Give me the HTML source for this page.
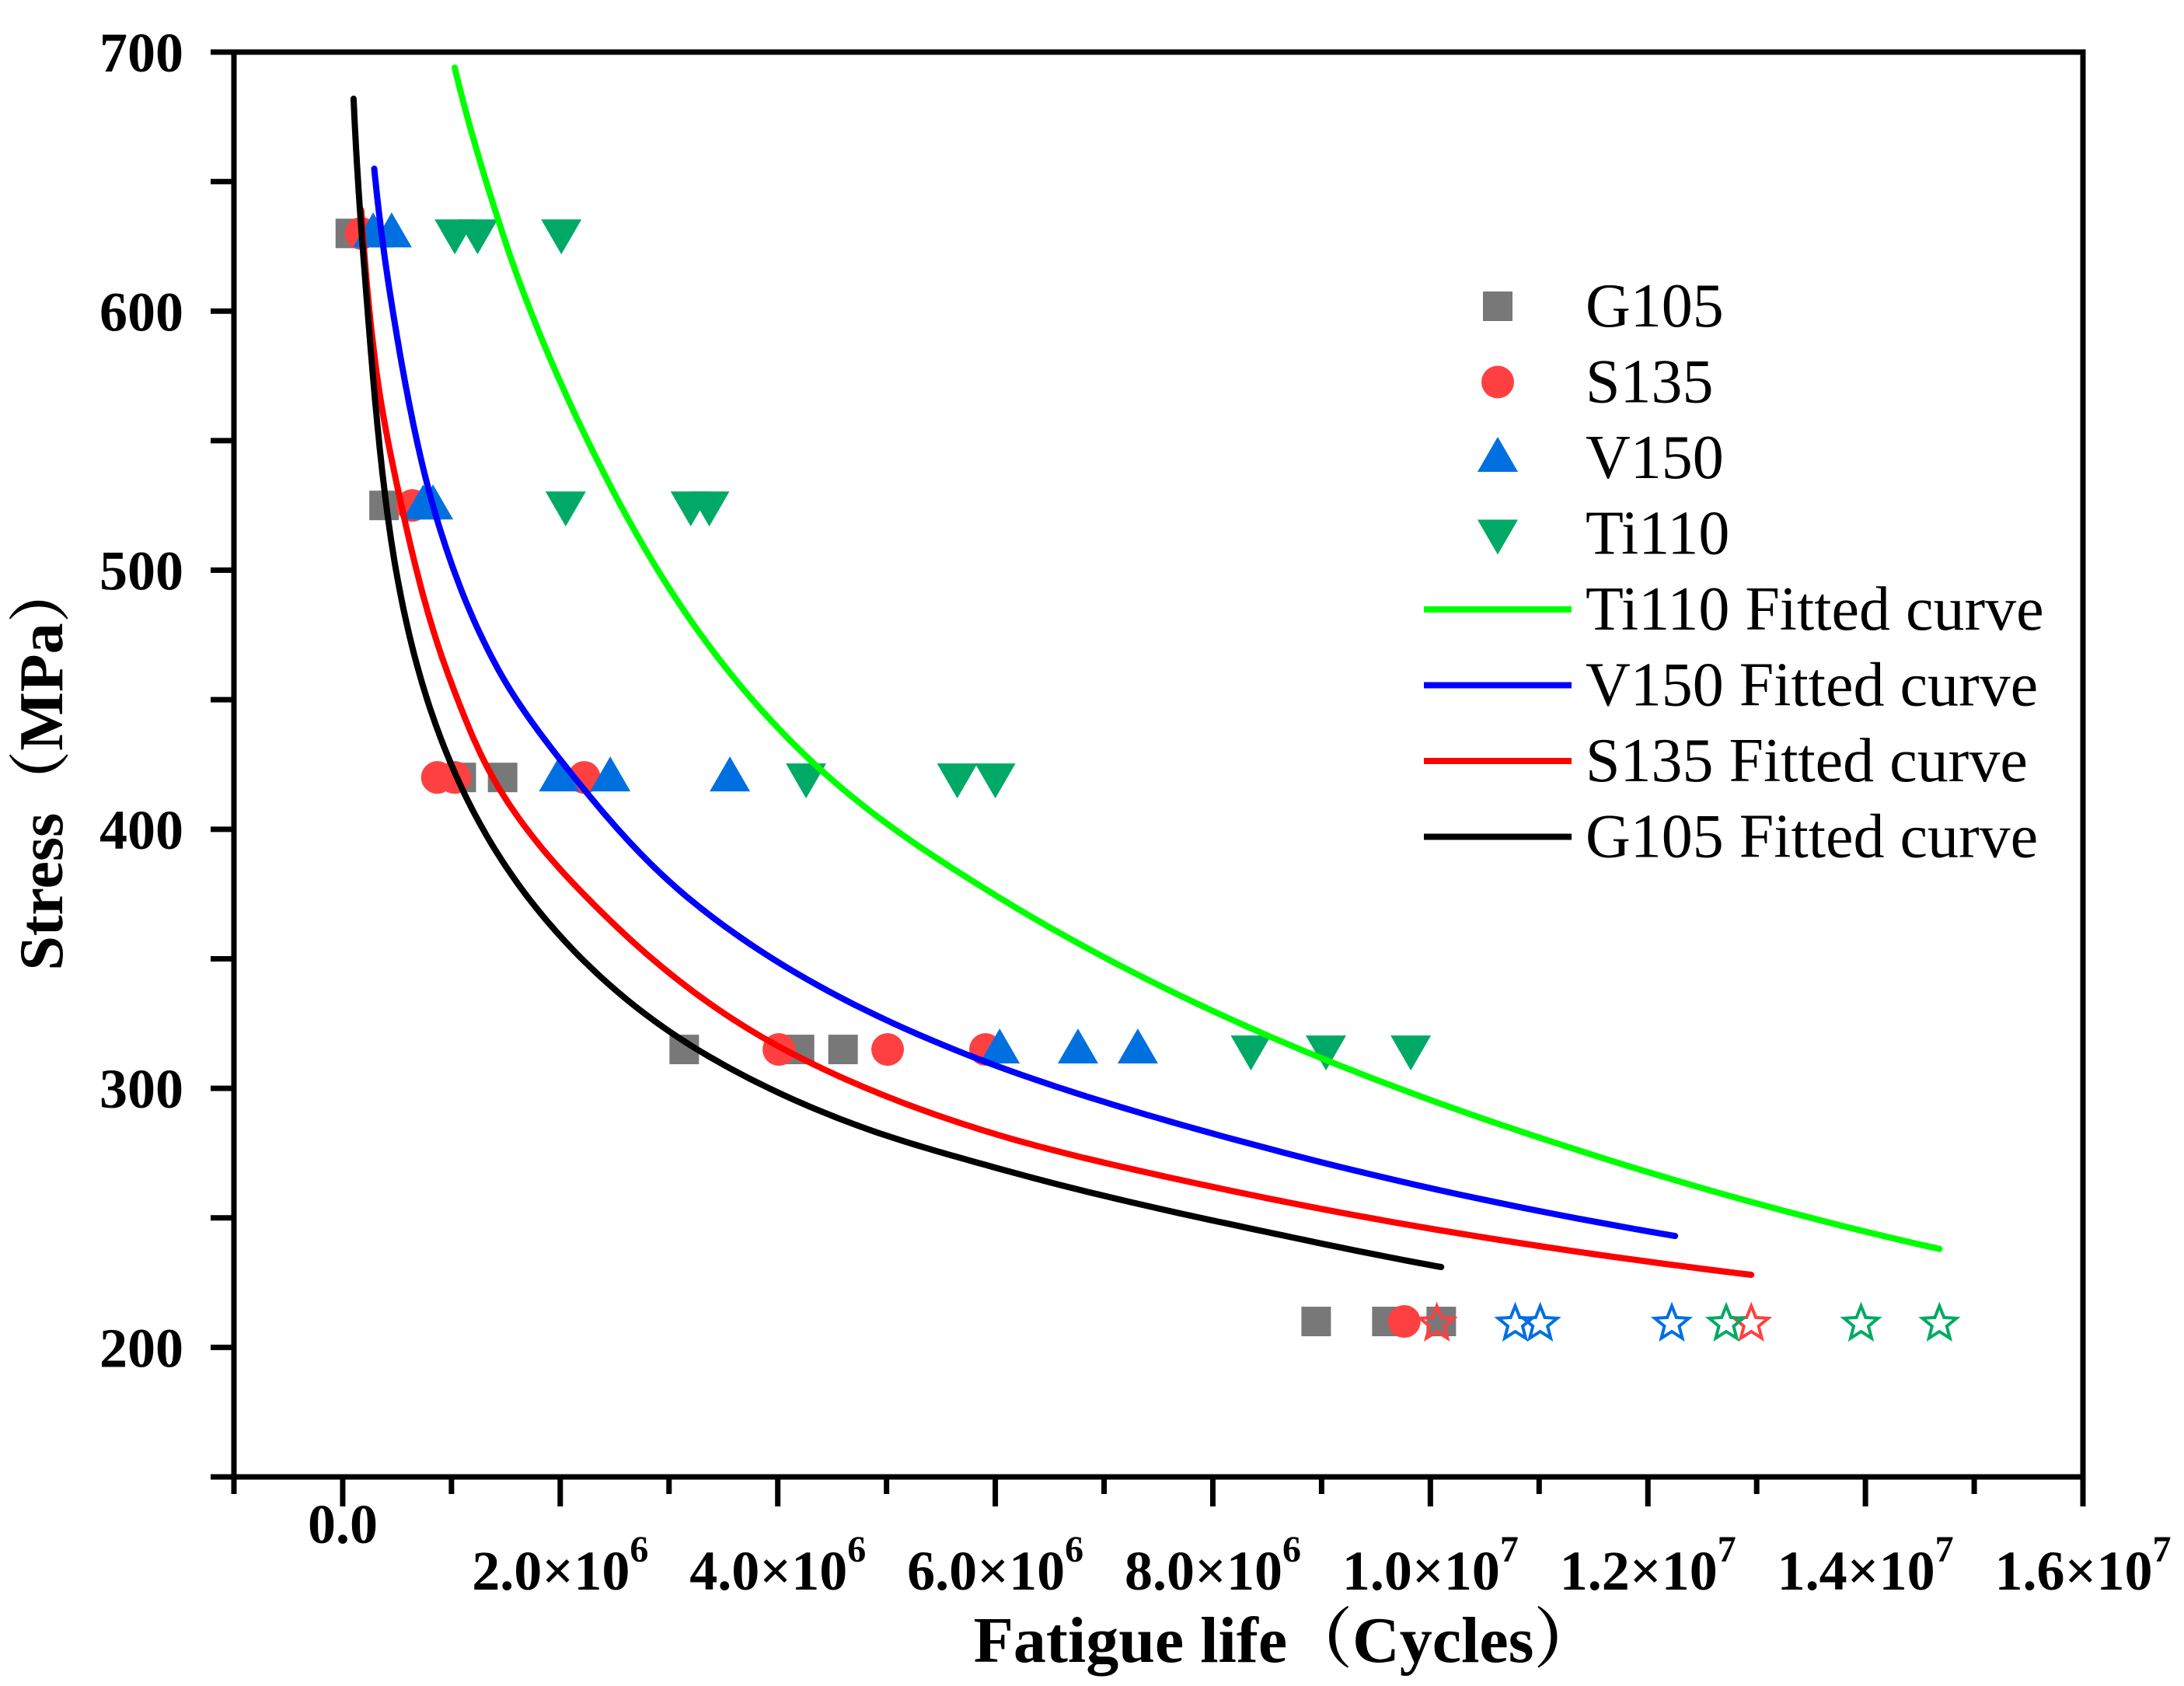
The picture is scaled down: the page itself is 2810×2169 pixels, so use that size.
<!DOCTYPE html>
<html><head><meta charset="utf-8"><style>
html,body{margin:0;padding:0;background:#fff}
svg{display:block}
text{font-family:"Liberation Serif","Noto Serif CJK SC",serif}
</style></head><body>
<svg id="chart" width="2810" height="2169" viewBox="0 0 2810 2169" xmlns="http://www.w3.org/2000/svg">
<g id="plot"></g>
</svg>
<script>
// ---- data ----
const yTicks = [200, 300, 400, 500, 600, 700];
const xTicks = [0, 2e6, 4e6, 6e6, 8e6, 1e7, 1.2e7, 1.4e7, 1.6e7];
const xTickLabels = ["0.0", "2.0×10|6", "4.0×10|6", "6.0×10|6", "8.0×10|6", "1.0×10|7", "1.2×10|7", "1.4×10|7", "1.6×10|7"];

const g105N = [0.07e6, 0.38e6, 1.09e6, 1.47e6, 3.14e6, 4.2e6, 4.6e6, 8.95e6, 9.6e6, 10.1e6];
const g105S = [630, 525, 420, 420, 315, 315, 315, 210, 210, 210];
const s135N = [0.17e6, 0.64e6, 0.87e6, 1.03e6, 2.22e6, 4.01e6, 5.01e6, 5.91e6, 9.76e6];
const s135S = [630, 525, 420, 420, 420, 315, 315, 315, 210];
const v150N = [0.28e6, 0.45e6, 0.74e6, 0.83e6, 1.99e6, 2.46e6, 3.56e6, 6.04e6, 6.76e6, 7.31e6];
const v150S = [630, 630, 525, 525, 420, 420, 420, 315, 315, 315];
const ti110N = [1.03e6, 1.24e6, 2.01e6, 2.05e6, 3.2e6, 3.37e6, 4.26e6, 5.65e6, 6.0e6, 8.35e6, 9.04e6, 9.82e6];
const ti110S = [630, 630, 630, 525, 525, 525, 420, 420, 420, 315, 315, 315];

const runoutS135N = [10.06e6, 12.95e6];
const runoutV150N = [10.78e6, 11.01e6, 12.22e6];
const runoutTi110N = [12.72e6, 13.96e6, 14.68e6];
const runoutS = 210;

const fitTiN = [1.03e6, 1.47e6, 2.37e6, 4.42e6, 6.1e6, 8.2e6, 11e6, 14.68e6];
const fitTiS = [694, 630, 540, 422, 372, 326, 281, 238];
const fitVN = [0.29e6, 0.5e6, 0.83e6, 1.4e6, 2.13e6, 3.22e6, 5.62e6, 8.22e6, 12.25e6];
const fitVS = [655, 590, 525, 464, 420, 372, 315, 280, 243];
const fitSN = [0.17e6, 0.3e6, 0.54e6, 0.95e6, 1.38e6, 2.38e6, 4.06e6, 5.87e6, 8.22e6, 12.95e6];
const fitSS = [639, 580, 525, 462, 420, 368, 315, 284, 260, 228];
const fitGN = [0.1e6, 0.22e6, 0.49e6, 1.05e6, 1.87e6, 3.26e6, 4.71e6, 6.12e6, 8.22e6, 10.1e6];
const fitGS = [682, 605, 500, 420, 365, 315, 286, 268, 247, 231];

// ---- axes ----
const L = 301, R = 2680, T = 67, B = 1900;
const xMin = -1e6, xMax = 1.6e7, yMin = 150, yMax = 700;
const X = n => L + (n - xMin) / (xMax - xMin) * (R - L);
const Y = s => B - (s - yMin) / (yMax - yMin) * (B - T);
const NS = "http://www.w3.org/2000/svg";
const plot = document.getElementById('plot');
function mk(tag, attrs, parent) {
  const e = document.createElementNS(NS, tag);
  for (const k in attrs) e.setAttribute(k, attrs[k]);
  (parent || plot).appendChild(e);
  return e;
}

const frame = mk('rect', {x: L, y: T, width: R - L, height: B - T, fill: 'none', stroke: '#000', 'stroke-width': 7});



for (let v = 150; v <= 700; v += 50) {
  const t = mk('line', {x1: L, x2: L - 30, y1: Y(v), y2: Y(v), stroke: '#000', 'stroke-width': 7});
  
  
}
yTicks.forEach(v => {
  const t = mk('text', {x: 236, y: Y(v) + 25, 'text-anchor': 'end', 'font-size': 72, 'font-weight': 'bold'});
  t.textContent = String(v);
  
  
});
for (let v = -1e6; v <= 1.6e7; v += 1e6) {
  const major = Math.round(v / 1e6) % 2 === 0;
  const t = mk('line', {x1: X(v), x2: X(v), y1: B, y2: B + (major ? 38 : 22), stroke: '#000', 'stroke-width': 7});
  
  
}
xTicks.forEach((v, i) => {
  const parts = xTickLabels[i].split('|');
  const t = mk('text', {x: X(v), y: parts.length > 1 ? 2045 : 1985, 'text-anchor': 'middle', 'font-size': 72, 'font-weight': 'bold'});
  
  
  t.appendChild(document.createTextNode(parts[0]));
  if (parts.length > 1) {
    const sup = document.createElementNS(NS, 'tspan');
    sup.setAttribute('dy', -36);
    sup.setAttribute('font-size', 48);
    sup.textContent = parts[1];
    t.appendChild(sup);
  }
});
const xt = mk('text', {x: 1655, y: 2138, 'text-anchor': 'middle', 'font-size': 84, 'font-weight': 'bold'});
xt.textContent = 'Fatigue life（Cycles）';


const yt = mk('text', {x: 0, y: 0, 'text-anchor': 'middle', 'font-size': 80, 'font-weight': 'bold', transform: 'translate(80,985) rotate(-90)'});
yt.textContent = 'Stress（MPa）';



function square(cx, cy, c, g) { return mk('rect', {x: cx - 19, y: cy - 19, width: 38, height: 38, fill: c}, g); }
function circle(cx, cy, c, g) { return mk('circle', {cx, cy, r: 21, fill: c}, g); }
function triUp(cx, cy, c, g) { return mk('polygon', {points: `${cx},${cy-27} ${cx+26},${cy+18} ${cx-26},${cy+18}`, fill: c}, g); }
function triDown(cx, cy, c, g) { return mk('polygon', {points: `${cx},${cy+27} ${cx+26},${cy-18} ${cx-26},${cy-18}`, fill: c}, g); }
function star(cx, cy, c, g) {
  let p = [];
  for (let i = 0; i < 10; i++) {
    const r = i % 2 ? 10 : 23, a = -Math.PI / 2 + i * Math.PI / 5;
    p.push((cx + r * Math.cos(a)).toFixed(1) + ',' + (cy + 3 + r * Math.sin(a)).toFixed(1));
  }
  return mk('polygon', {points: p.join(' '), fill: 'none', stroke: c, 'stroke-width': 4}, g);
}
// smooth curve: Catmull-Rom in log-log space, sampled and mapped to pixels
function curve(ns, ss, c, name) {
  const P = ns.map((n, i) => [Math.log(n), Math.log(ss[i])]);
  const pts = [];
  for (let i = 0; i < P.length - 1; i++) {
    const p0 = P[Math.max(0, i - 1)], p1 = P[i], p2 = P[i + 1], p3 = P[Math.min(P.length - 1, i + 2)];
    for (let k = 0; k < 24; k++) {
      const t = k / 24, t2 = t * t, t3 = t2 * t;
      const f = j => 0.5 * ((2 * p1[j]) + (-p0[j] + p2[j]) * t + (2 * p0[j] - 5 * p1[j] + 4 * p2[j] - p3[j]) * t2 + (-p0[j] + 3 * p1[j] - 3 * p2[j] + p3[j]) * t3);
      pts.push([f(0), f(1)]);
    }
  }
  pts.push(P[P.length - 1]);
  const d = pts.map((p, i) => (i ? 'L' : 'M') + X(Math.exp(p[0])).toFixed(1) + ',' + Y(Math.exp(p[1])).toFixed(1)).join(' ');
  const p = mk('path', {d, fill: 'none', stroke: c, 'stroke-width': 8, 'stroke-linecap': 'round', 'stroke-linejoin': 'round'});
  
  
}
function series(ns, ss, fn, c, name) {
  const g = mk('g', {});
  
  
  ns.forEach((n, i) => {
    const m = fn(X(n), Y(ss[i]), c, g);
    
    
  });
}
const cG = '#787878', cS = '#ff4040', cV = '#0070e0', cT = '#00aa66';
series(g105N, g105S, square, cG, 'g105-series');
series(s135N, s135S, circle, cS, 's135-series');
series(v150N, v150S, triUp, cV, 'v150-series');
series(ti110N, ti110S, triDown, cT, 'ti110-series');
curve(fitTiN, fitTiS, '#00ff00', 'ti110-fitted-curve');
curve(fitVN, fitVS, '#0000ff', 'v150-fitted-curve');
curve(fitSN, fitSS, '#ff0000', 's135-fitted-curve');
curve(fitGN, fitGS, '#000000', 'g105-fitted-curve');
series(runoutS135N, runoutS135N.map(() => runoutS), star, cS, 's135-runout');
series(runoutV150N, runoutV150N.map(() => runoutS), star, cV, 'v150-runout');
series(runoutTi110N, runoutTi110N.map(() => runoutS), star, cT, 'ti110-runout');

const leg = mk('g', {});


const legMarkers = [['G105', square, cG], ['S135', circle, cS], ['V150', triUp, cV], ['Ti110', triDown, cT]];
legMarkers.forEach((e, i) => {
  const y = 394 + i * 97.5;
  const m = e[1](1927, y, e[2], leg);
  
  
  const t = mk('text', {x: 2040, y: y + 26, 'font-size': 80}, leg);
  t.textContent = e[0];
  
  
});
const legLines = [['Ti110 Fitted curve', '#00ff00'], ['V150 Fitted curve', '#0000ff'], ['S135 Fitted curve', '#ff0000'], ['G105 Fitted curve', '#000000']];
legLines.forEach((e, i) => {
  const y = 784 + i * 97.5;
  const l = mk('line', {x1: 1832, x2: 2022, y1: y, y2: y, stroke: e[1], 'stroke-width': 8}, leg);
  
  
  const t = mk('text', {x: 2040, y: y + 26, 'font-size': 80}, leg);
  t.textContent = e[0];
  
  
});
</script>
</body></html>
